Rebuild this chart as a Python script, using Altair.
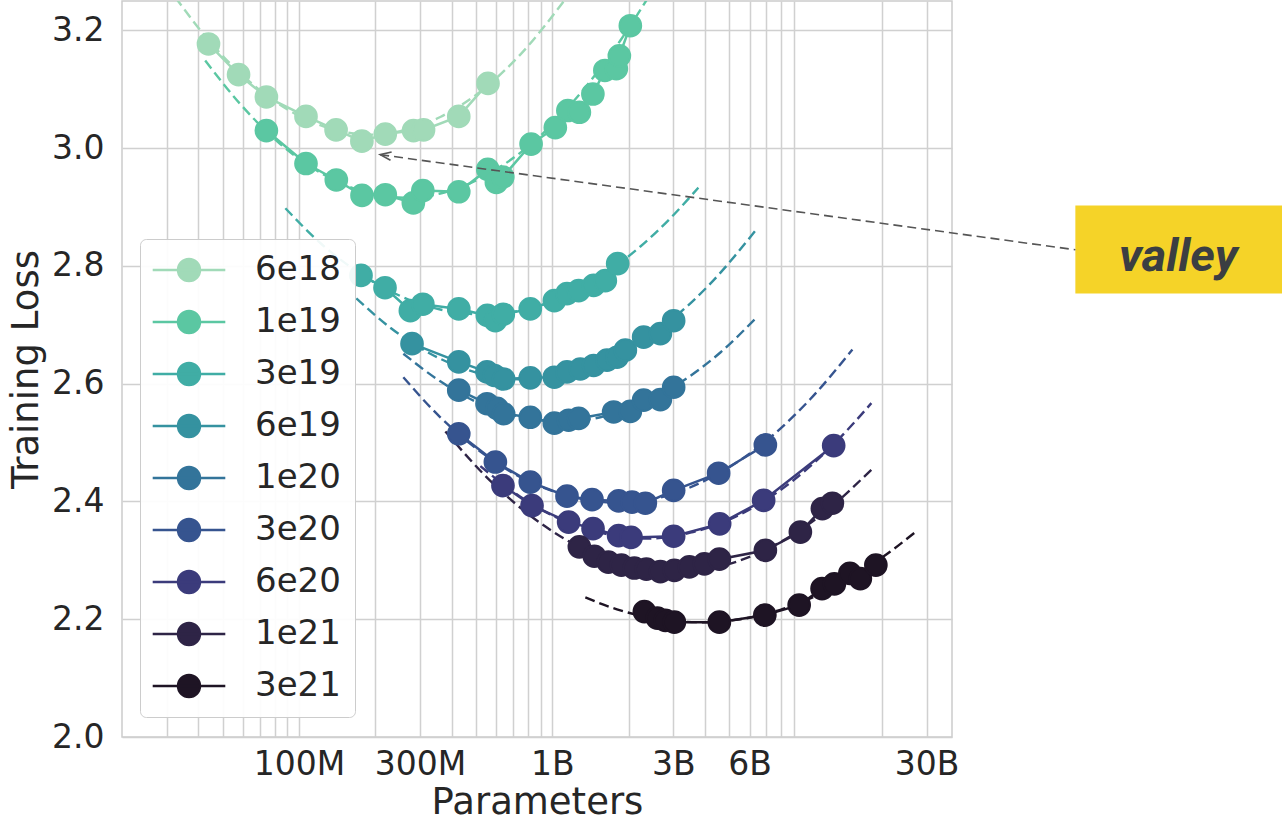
import altair as alt
import pandas as pd

series = ["6e18", "1e19", "3e19", "6e19", "1e20", "3e20", "6e20", "1e21", "3e21"]
colors = ["#a1dab8", "#5bc7a2", "#40ada5", "#3592a0", "#33749a",
          "#36548f", "#3b3b7b", "#2e2446", "#1e1424"]

# measured runs: parameters (millions) and training loss
n_6e18 = [43.9, 57.7, 74.3, 106.5, 140, 177, 219, 283, 310, 427, 557]
l_6e18 = [3.177, 3.125, 3.087, 3.054, 3.031, 3.012, 3.024, 3.030, 3.031, 3.054, 3.110]
n_1e19 = [74.3, 106.5, 140.3, 177.2, 219, 282.6, 308, 427, 556, 601, 637, 824, 1027,
          1151, 1278, 1445, 1611, 1788, 1838, 2031]
l_1e19 = [3.030, 2.974, 2.946, 2.920, 2.921, 2.907, 2.928, 2.926, 2.964, 2.942, 2.951,
          3.007, 3.035, 3.064, 3.061, 3.092, 3.132, 3.135, 3.157, 3.208]
n_3e19 = [175.6, 218.4, 275, 308, 427, 553.6, 595.6, 640, 818, 1018, 1142, 1270, 1455, 1618, 1810]
l_3e19 = [2.784, 2.763, 2.724, 2.735, 2.727, 2.716, 2.707, 2.718, 2.727, 2.741, 2.753,
          2.758, 2.767, 2.775, 2.804]
n_6e19 = [279.2, 427, 552, 590, 642, 818, 1018, 1142, 1289, 1455, 1643, 1800, 1941, 2292, 2669, 3011]
l_6e19 = [2.668, 2.637, 2.620, 2.614, 2.608, 2.610, 2.611, 2.620, 2.625, 2.631, 2.640,
          2.645, 2.657, 2.679, 2.685, 2.707]
n_1e20 = [427, 552, 605, 642, 818, 1018, 1159, 1270, 1745, 2031, 2292, 2669, 3011]
l_1e20 = [2.589, 2.566, 2.558, 2.549, 2.543, 2.533, 2.538, 2.541, 2.552, 2.553, 2.572, 2.573, 2.594]
n_3e20 = [427, 595.6, 818, 1142, 1434, 1826, 2062, 2328, 3011, 4532, 6930]
l_3e20 = [2.515, 2.467, 2.433, 2.409, 2.403, 2.401, 2.399, 2.397, 2.419, 2.448, 2.496]
n_6e20 = [638, 831, 1159, 1447, 1826, 2044, 3011, 4574, 6824, 12894]
l_6e20 = [2.427, 2.393, 2.365, 2.354, 2.342, 2.339, 2.341, 2.362, 2.402, 2.495]
n_1e21 = [1278, 1464, 1663, 1872, 2106, 2350, 2669, 3030, 3472, 3981, 4562, 6930, 9526, 11636, 12744]
l_1e21 = [2.323, 2.307, 2.297, 2.292, 2.287, 2.285, 2.281, 2.283, 2.289, 2.294, 2.302,
          2.317, 2.348, 2.388, 2.397]
n_3e21 = [2307, 2596, 2792, 3030, 4562, 6898, 9422, 11602, 12978, 14938, 16434, 18920]
l_3e21 = [2.213, 2.202, 2.198, 2.195, 2.195, 2.207, 2.224, 2.252, 2.260, 2.278, 2.269, 2.292]

# fitted (dashed) curves
fn_6e18 = [32.5, 44.6, 64.2, 101, 145.5, 191, 251, 361, 519, 747, 1125]
fl_6e18 = [3.256, 3.180, 3.112, 3.054, 3.029, 3.023, 3.029, 3.053, 3.096, 3.159, 3.253]
fn_1e19 = [42.6, 58.6, 84.3, 132.9, 209.2, 262.7, 361, 569, 896, 1412, 1855, 2350]
fl_1e19 = [3.149, 3.075, 3.007, 2.949, 2.920, 2.916, 2.923, 2.958, 3.021, 3.114, 3.183, 3.251]
fn_3e19 = [88.3, 121.3, 174.5, 251, 361, 529, 747, 1075, 1547, 2225, 2922, 3769]
fl_3e19 = [2.898, 2.839, 2.787, 2.749, 2.726, 2.718, 2.724, 2.746, 2.782, 2.833, 2.881, 2.933]
fn_6e19 = [168.3, 229.3, 329.8, 519.5, 782, 1178, 1855, 2922, 4203, 6444]
fl_6e19 = [2.745, 2.695, 2.651, 2.617, 2.607, 2.617, 2.650, 2.707, 2.770, 2.864]
fn_1e20 = [258, 361, 519.5, 747, 1075, 1547, 2225, 3200, 4603, 6444]
fl_1e20 = [2.651, 2.604, 2.566, 2.544, 2.536, 2.543, 2.565, 2.602, 2.653, 2.714]
fn_3e20 = [258, 361, 519.5, 818, 1289, 1788, 2669, 4203, 6622, 10436, 15280]
fl_3e20 = [2.611, 2.543, 2.485, 2.433, 2.405, 2.398, 2.407, 2.440, 2.495, 2.574, 2.658]
fn_6e20 = [519.5, 747, 1075, 1547, 2328, 3504, 5521, 8698, 13092, 18164]
fl_6e20 = [2.460, 2.408, 2.370, 2.347, 2.337, 2.347, 2.378, 2.432, 2.500, 2.567]
fn_1e21 = [378, 569, 818, 1289, 2031, 3058, 4603, 7252, 11426, 18164]
fl_1e21 = [2.519, 2.435, 2.376, 2.322, 2.290, 2.281, 2.290, 2.322, 2.376, 2.454]
fn_3e21 = [1349, 1855, 2669, 3838, 5521, 7942, 11426, 16434, 21592, 27094]
fl_3e21 = [2.237, 2.215, 2.200, 2.195, 2.200, 2.216, 2.243, 2.280, 2.315, 2.348]

# axis ticks
grid_values = [3e7, 4e7, 5e7, 6e7, 7e7, 8e7, 9e7,
               1e8, 2e8, 3e8, 4e8, 5e8, 6e8, 7e8, 8e8, 9e8,
               1e9, 2e9, 3e9, 4e9, 5e9, 6e9, 7e9, 8e9, 9e9, 2e10, 3e10]
label_values = [1e8, 3e8, 1e9, 3e9, 6e9, 3e10]
label_texts = ["100M", "300M", "1B", "3B", "6B", "30B"]
y_values = [2.0, 2.2, 2.4, 2.6, 2.8, 3.0, 3.2]

# annotation "valley"
arrow_n = [209, 116000]       # millions: tip, tail
arrow_l = [2.989, 2.8275]
box_n = [116000, 800000]
box_l = [2.7533, 2.9027]
text_n = 295800
text_l = 2.792

runs = {"6e18": (n_6e18, l_6e18), "1e19": (n_1e19, l_1e19), "3e19": (n_3e19, l_3e19),
        "6e19": (n_6e19, l_6e19), "1e20": (n_1e20, l_1e20), "3e20": (n_3e20, l_3e20),
        "6e20": (n_6e20, l_6e20), "1e21": (n_1e21, l_1e21), "3e21": (n_3e21, l_3e21)}
fits = {"6e18": (fn_6e18, fl_6e18), "1e19": (fn_1e19, fl_1e19), "3e19": (fn_3e19, fl_3e19),
        "6e19": (fn_6e19, fl_6e19), "1e20": (fn_1e20, fl_1e20), "3e20": (fn_3e20, fl_3e20),
        "6e20": (fn_6e20, fl_6e20), "1e21": (fn_1e21, fl_1e21), "3e21": (fn_3e21, fl_3e21)}
col_of = dict(zip(series, colors))


def frame(d):
    rows = []
    for k in series:
        ns, ls = d[k]
        for a, b in zip(ns, ls):
            rows.append({"budget": k, "col": col_of[k], "n": a * 1e6, "loss": b})
    return pd.DataFrame(rows)


pts = frame(runs)
fit = frame(fits)
arrow_df = pd.DataFrame({"n": [arrow_n[0] * 1e6], "loss": [arrow_l[0]],
                         "n2": [arrow_n[1] * 1e6], "loss2": [arrow_l[1]]})
tip_df = pd.DataFrame({"n": [arrow_n[0] * 1e6], "loss": [arrow_l[0]]})
box_df = pd.DataFrame({"n": [box_n[0] * 1e6], "n2": [box_n[1] * 1e6],
                       "loss": [box_l[0]], "loss2": [box_l[1]]})
text_df = pd.DataFrame({"n": [text_n * 1e6], "loss": [text_l], "t": ["valley"]})

FONT = "DejaVu Sans"
TXT = "#262626"
label_expr = " : ".join(
    f"datum.value == {v:.0f} ? '{t}'" for v, t in zip(label_values, label_texts)) + " : ''"

xscale = alt.Scale(type="log", domain=[2e7, 3.78e10], nice=False)
yscale = alt.Scale(domain=[2.0, 3.25], nice=False, zero=False)
xaxis = alt.Axis(values=grid_values, labelExpr=label_expr, title="Parameters",
                 grid=True, ticks=False, domain=False, labelOverlap=False, labelFlush=False,
                 labelFont=FONT, labelFontSize=33, labelColor=TXT, labelPadding=11,
                 titleFont=FONT, titleFontSize=37, titleFontWeight="normal",
                 titleColor=TXT, titlePadding=3, gridColor="#d0d0d0", gridWidth=1.5)
yaxis = alt.Axis(values=y_values, format=".1f", title="Training Loss",
                 grid=True, ticks=False, domain=False,
                 labelFont=FONT, labelFontSize=33, labelColor=TXT, labelPadding=18,
                 titleFont=FONT, titleFontSize=37, titleFontWeight="normal",
                 titleColor=TXT, titlePadding=6, gridColor="#d0d0d0", gridWidth=1.5)

X = alt.X("n:Q", scale=xscale, axis=xaxis)
Y = alt.Y("loss:Q", scale=yscale, axis=yaxis)
cscale = alt.Scale(domain=series, range=colors)

legend = alt.Legend(title=None, orient="none", legendX=18, legendY=238,
                    padding=14, symbolOffset=18, labelOffset=49, rowPadding=18,
                    symbolType="M-3.3,0H3.3M1,0A1,1,0,1,0,-1,0A1,1,0,1,0,1,0Z",
                    symbolSize=484, symbolStrokeWidth=2.5, symbolOpacity=1,
                    labelFont=FONT, labelFontSize=34, labelColor=TXT,
                    fillColor="rgba(255,255,255,0.92)", strokeColor="#cccccc",
                    cornerRadius=6)

fit_layer = alt.Chart(fit).mark_line(strokeDash=[10, 5], strokeWidth=2.4, clip=True,
                                     interpolate="monotone").encode(
    x=X, y=Y, detail="budget:N", color=alt.Color("col:N", scale=None))
line_layer = alt.Chart(pts).mark_line(strokeWidth=2.5, clip=True).encode(
    x=X, y=Y, detail="budget:N", color=alt.Color("col:N", scale=None))
point_layer = alt.Chart(pts).mark_point(filled=True, size=470, strokeWidth=2, opacity=1,
                                        clip=True).encode(
    x=X, y=Y,
    fill=alt.Fill("budget:N", scale=cscale, legend=legend),
    stroke=alt.Stroke("budget:N", scale=cscale, legend=legend))

box_layer = alt.Chart(box_df).mark_rect(color="#f5d328", clip=False).encode(
    x=X, x2="n2:Q", y=Y, y2="loss2:Q")
text_layer = alt.Chart(text_df).mark_text(font="Roboto", fontStyle="italic", fontWeight="bold",
                                          fontSize=47, color="#3b3e42", align="center",
                                          baseline="alphabetic", clip=False).encode(
    x=X, y=Y, text="t:N")
arrow_layer = alt.Chart(arrow_df).mark_rule(strokeDash=[9, 5], color="#555555",
                                            strokeWidth=1.6, clip=False).encode(
    x=X, x2="n2:Q", y=Y, y2="loss2:Q")
tip_layer = alt.Chart(tip_df).mark_point(shape="M1,-0.38L0,0L1,0.38", size=484, angle=7.8,
                                         filled=False, stroke="#555555", strokeWidth=1.6,
                                         opacity=1, clip=False).encode(x=X, y=Y)

chart = alt.layer(fit_layer, line_layer, point_layer, box_layer, text_layer,
                  arrow_layer, tip_layer).properties(
    width=830, height=736,
    padding={"left": 122, "top": 1, "right": 330, "bottom": 88},
    autosize=alt.AutoSizeParams(type="none"),
    background="white",
).configure_view(stroke="#cccccc", strokeWidth=1.5)

chart.save("out.html", embed_options={"renderer": "svg", "actions": False})
